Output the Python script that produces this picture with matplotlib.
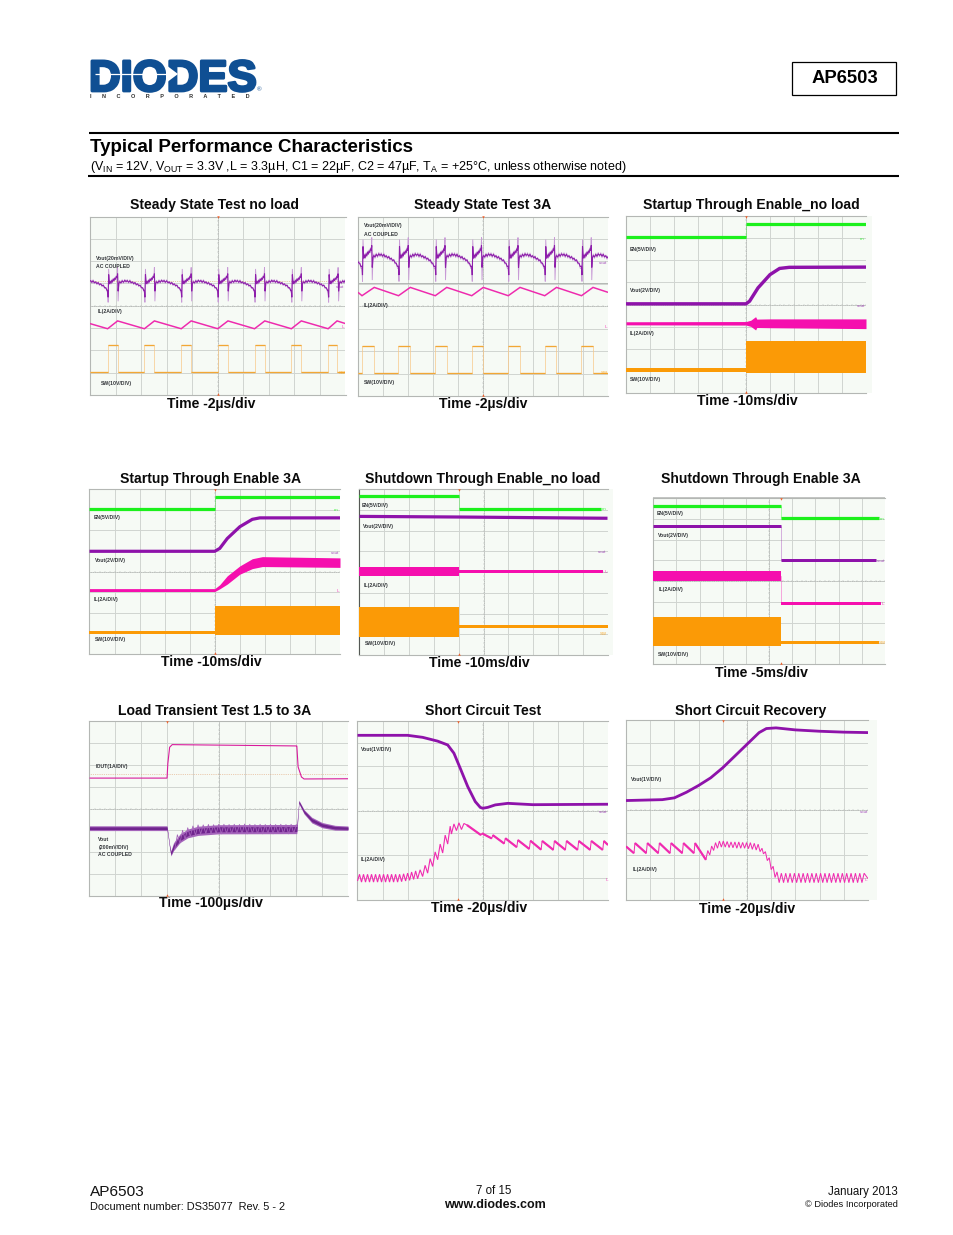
import numpy as np
import matplotlib
matplotlib.use("Agg")
import matplotlib.pyplot as plt
from matplotlib.patches import Rectangle, Polygon
import matplotlib.patheffects as pe

plt.rcParams['font.family'] = ['Liberation Sans', 'DejaVu Sans']
plt.rcParams['mathtext.fontset'] = 'custom'
plt.rcParams['mathtext.rm'] = 'Liberation Sans'
plt.rcParams['mathtext.default'] = 'rm'

GREEN, PURPLE, MAGENTA, ORANGE = '#1cf01c', '#8e12aa', '#f50fae', '#fb9a06'
BG, GRID, BORDER = '#f6faf5', '#d0d4d0', '#b4b7b4'

# ---- Panel text ----
TITLES = ["Steady State Test no load", "Steady State Test 3A", "Startup Through Enable_no load",
          "Startup Through Enable 3A", "Shutdown Through Enable_no load", "Shutdown Through Enable 3A",
          "Load Transient Test 1.5 to 3A", "Short Circuit Test", "Short Circuit Recovery"]
TIMES = ["Time -2µs/div", "Time -2µs/div", "Time -10ms/div", "Time -10ms/div", "Time -10ms/div",
         "Time -5ms/div", "Time -100µs/div", "Time -20µs/div", "Time -20µs/div"]

# ---- Values, in scope divisions (x 0-10, y 0-8) ----
# Ripple shape of one switching cycle, relative to the trace baseline
ripple_t = [0.00, 0.02, 0.04, 0.07, 0.10, 0.13, 0.16, 0.19, 0.22, 0.25, 0.28, 0.31, 0.34, 0.37, 0.39, 0.41, 0.44,
            0.47, 0.52, 0.57, 0.62, 0.67, 0.72, 0.77, 0.82, 0.87, 0.92, 0.97, 1.02, 1.07, 1.12, 1.17, 1.22, 1.27, 1.32, 1.37, 1.42]
ripple_dark = [-0.40, -0.72, 0.30, -0.12, 0.00, -0.10, 0.04, -0.04, 0.10, 0.02, 0.14, 0.08, 0.22, 0.16, 0.34, -0.45, -0.10,
               -0.02, -0.08, 0.02, -0.05, 0.04, -0.02, 0.03, -0.05, 0.02, -0.07, -0.03, -0.11, -0.06, -0.15, -0.12, -0.20, -0.18, -0.28, -0.30, -0.42]
ripple_light = [-0.50, -0.95, 0.55, -0.15, 0.04, -0.14, 0.08, -0.08, 0.14, 0.00, 0.18, 0.05, 0.26, 0.14, 0.62, -0.90, -0.16,
                0.04, -0.13, 0.07, -0.10, 0.09, -0.07, 0.08, -0.10, 0.07, -0.12, 0.00, -0.16, -0.03, -0.20, -0.09, -0.25, -0.15, -0.33, -0.28, -0.48]

p1_rise = [-0.75, 0.69, 2.13, 3.57, 5.00, 6.44, 7.88, 9.32]
p1_fall = [-0.36, 1.08, 2.52, 3.96, 5.40, 6.84, 8.27, 9.67]
p1_vout_base, p1_sw_low, p1_sw_high = 5.10, 1.03, 2.26
p1_il_x = [0, 0.69, 1.08, 2.13, 2.52, 3.57, 3.96, 5.00, 5.40, 6.44, 6.84, 7.88, 8.27, 9.32, 9.67, 10]
p1_il_y = [3.20, 2.97, 3.32, 2.97, 3.32, 2.97, 3.32, 2.97, 3.32, 2.97, 3.32, 2.97, 3.32, 2.97, 3.32, 3.20]

p2_rise = [-1.30, 0.16, 1.62, 3.09, 4.55, 6.01, 7.47, 8.94]
p2_fall = [-0.81, 0.65, 2.09, 3.55, 5.01, 6.48, 7.94, 9.40]
p2_vout_base, p2_sw_low, p2_sw_high = 6.29, 1.03, 2.22
p2_il_x = [0, 0.16, 0.65, 1.62, 2.09, 3.09, 3.55, 4.55, 5.01, 6.01, 6.48, 7.47, 7.94, 8.94, 9.40, 10]
p2_il_y = [4.62, 4.47, 4.84, 4.47, 4.84, 4.47, 4.84, 4.47, 4.84, 4.47, 4.84, 4.47, 4.84, 4.47, 4.84, 4.62]

p3_en_x, p3_en_y = [0, 5.0, 5.0, 10], [7.06, 7.06, 7.65, 7.65]
p3_vout_x = [0, 5.0, 5.15, 5.5, 6.0, 6.4, 6.8, 10]
p3_vout_y = [4.03, 4.03, 4.15, 4.75, 5.35, 5.63, 5.68, 5.69]
p3_il_x = [0, 5.0, 5.2, 5.4, 5.45, 6.0, 10]
p3_il_y = [3.15, 3.15, 3.15, 3.15, 3.15, 3.15, 3.13]
p3_il_h = [0.07, 0.08, 0.14, 0.30, 0.19, 0.20, 0.22]
p3_sw_x = [0, 5.0, 5.0, 10]
p3_sw_y = [1.03, 1.03, 1.62, 1.62]
p3_sw_h = [0.08, 0.08, 0.72, 0.72]

p4_en_x, p4_en_y = [0, 5.0, 5.0, 10], [7.01, 7.01, 7.59, 7.59]
p4_vout_x = [0, 5.0, 5.2, 5.5, 6.0, 6.5, 6.8, 10]
p4_vout_y = [4.98, 4.98, 5.12, 5.60, 6.17, 6.53, 6.60, 6.60]
p4_il_x = [0, 5.0, 5.2, 5.5, 6.0, 6.5, 6.9, 10]
p4_il_y = [3.10, 3.10, 3.26, 3.59, 4.07, 4.38, 4.48, 4.43]
p4_il_h = [0.07, 0.07, 0.10, 0.20, 0.20, 0.24, 0.24, 0.23]
p4_sw_x = [0, 5.0, 5.0, 10]
p4_sw_y = [1.05, 1.05, 1.62, 1.62]
p4_sw_h = [0.07, 0.07, 0.70, 0.70]

p5_en_x, p5_en_y = [0, 4.0, 4.0, 9.74], [7.66, 7.66, 7.05, 7.05]
p5_vout_x, p5_vout_y = [0, 4.0, 10], [6.68, 6.65, 6.59]
p5_il_x = [0, 4.0, 4.0, 9.83]
p5_il_y = [4.04, 4.04, 4.03, 4.03]
p5_il_h = [0.22, 0.22, 0.07, 0.07]
p5_sw_x = [0, 4.0, 4.0, 10]
p5_sw_y = [1.61, 1.61, 1.37, 1.37]
p5_sw_h = [0.72, 0.72, 0.07, 0.07]

p6_en_x, p6_en_y = [0, 5.5, 5.5, 9.75], [7.63, 7.63, 7.02, 7.02]
p6_vout_x = [0, 5.5, 5.5, 9.6]
p6_vout_y = [6.65, 6.65, 5.00, 5.00]
p6_il_x = [0, 5.5, 5.5, 9.83]
p6_il_y = [4.23, 4.23, 2.93, 2.93]
p6_il_h = [0.24, 0.24, 0.07, 0.07]
p6_sw_x = [0, 5.5, 5.5, 9.72]
p6_sw_y = [1.57, 1.57, 1.03, 1.03]
p6_sw_h = [0.71, 0.71, 0.07, 0.07]

p7_iout_x = [0, 3.0, 3.03, 3.1, 3.2, 8.0, 8.02, 8.07, 8.2, 8.3, 10]
p7_iout_y = [5.39, 5.39, 6.05, 6.80, 6.92, 6.86, 6.86, 5.90, 5.44, 5.35, 5.36]
p7_vout_x = [0, 3.0, 3.03, 3.1, 3.15, 3.25, 3.5, 3.8, 4.2, 5.0, 8.0, 8.02, 8.1, 8.3, 8.6, 9.0, 9.5, 10]
p7_vout_y = [3.10, 3.10, 2.86, 2.26, 1.95, 2.25, 2.64, 2.86, 2.98, 3.05, 3.06, 3.06, 4.30, 3.85, 3.47, 3.24, 3.12, 3.10]
p7_vout_h = [0.11, 0.11, 0.08, 0.08, 0.12, 0.18, 0.20, 0.20, 0.21, 0.21, 0.21, 0.21, 0.08, 0.10, 0.13, 0.12, 0.11, 0.10]
p7_noise_x = [3.3, 3.4, 3.5, 3.6, 3.7, 3.8, 3.9, 4.0, 4.1, 4.2, 4.3, 4.4, 4.5, 4.6, 4.7, 4.8, 4.9, 5.0, 5.1, 5.2, 5.3, 5.4,
              5.5, 5.6, 5.7, 5.8, 5.9, 6.0, 6.1, 6.2, 6.3, 6.4, 6.5, 6.6, 6.7, 6.8, 6.9, 7.0, 7.1, 7.2, 7.3, 7.4, 7.5, 7.6, 7.7, 7.8, 7.9, 8.0]
p7_noise_y = [2.15, 2.80, 2.42, 3.00, 2.60, 3.12, 2.72, 3.20, 2.78, 3.25, 2.84, 3.25, 2.86, 3.27, 2.85, 3.26, 2.86, 3.28, 2.84, 3.28, 2.86, 3.27,
              2.85, 3.28, 2.86, 3.27, 2.85, 3.29, 2.84, 3.28, 2.86, 3.27, 2.85, 3.28, 2.84, 3.27, 2.86, 3.28, 2.84, 3.27, 2.85, 3.28, 2.85, 3.27, 2.84, 3.28, 2.86, 3.27]

p8_vout_x = [0, 2.0, 2.6, 3.2, 3.6, 3.85, 4.1, 4.4, 4.7, 4.9, 5.0, 5.2, 5.5, 6.0, 6.5, 7.0, 10]
p8_vout_y = [7.36, 7.36, 7.27, 7.10, 6.93, 6.56, 5.89, 5.07, 4.40, 4.14, 4.10, 4.14, 4.25, 4.32, 4.29, 4.26, 4.28]
p8_il_x = [0, .08, .16, .24, .32, .40, .48, .56, .64, .72, .80, .88, .96, 1.04, 1.12, 1.20, 1.28, 1.36, 1.44, 1.52,
           1.60, 1.68, 1.76, 1.84, 1.92, 2.00, 2.08, 2.16, 2.24, 2.32, 2.40, 2.50, 2.60, 2.70, 2.80, 2.90, 3.00, 3.10,
           3.20, 3.30, 3.40, 3.50, 3.60, 3.70, 3.75, 3.85, 3.95, 4.05, 4.15, 4.25, 4.37]
p8_il_y = [.85, 1.15, .80, 1.15, .80, 1.15, .80, 1.15, .80, 1.15, .80, 1.15, .80, 1.15, .80, 1.15, .80, 1.15, .80, 1.15,
           .80, 1.15, .82, 1.17, .85, 1.20, .88, 1.25, .92, 1.30, .95, 1.35, 1.05, 1.55, 1.20, 1.85, 1.50, 2.15,
           1.80, 2.50, 2.10, 2.90, 2.50, 3.30, 2.95, 3.40, 3.10, 3.45, 3.15, 3.42, 3.35]
p8_peak_x = [4.37, 4.97, 5.40, 5.90, 6.40, 6.90, 7.37, 7.86, 8.34, 8.83, 9.33, 9.83]
p8_peak_y = [3.35, 2.98, 2.90, 2.76, 2.68, 2.65, 2.64, 2.64, 2.64, 2.64, 2.64, 2.64]
p8_valley_x = [4.93, 5.36, 5.86, 6.36, 6.86, 7.33, 7.82, 8.30, 8.79, 9.29, 9.79, 10.0]
p8_valley_y = [2.90, 2.75, 2.52, 2.36, 2.28, 2.25, 2.24, 2.24, 2.24, 2.24, 2.24, 2.46]

p9_vout_x = [0, 1.5, 2.0, 2.5, 3.0, 3.5, 4.0, 4.5, 5.0, 5.5, 5.8, 6.2, 7.0, 8.0, 9.0, 10]
p9_vout_y = [4.42, 4.46, 4.54, 4.79, 5.09, 5.43, 5.88, 6.40, 6.92, 7.44, 7.62, 7.65, 7.56, 7.50, 7.46, 7.44]
p9_peak_x = [0.00, 0.37, 0.88, 1.38, 1.86, 2.37, 2.85]
p9_peak_y = [2.38, 2.53, 2.53, 2.53, 2.53, 2.53, 2.53]
p9_valley_x = [0.33, 0.84, 1.34, 1.82, 2.33, 2.81, 3.30]
p9_valley_y = [2.08, 2.08, 2.08, 2.08, 2.08, 2.08, 1.79]
p9_il_x = [3.30, 3.38, 3.46, 3.54, 3.62, 3.70, 3.78, 3.86, 3.94, 4.02, 4.10, 4.18, 4.26, 4.34, 4.42, 4.50, 4.58, 4.66, 4.74,
           4.82, 4.90, 4.98, 5.06, 5.14, 5.22, 5.30, 5.38, 5.46, 5.54, 5.62, 5.68, 5.76, 5.84, 5.92, 6.00, 6.08, 6.16, 6.24,
           6.33, 6.42, 6.51, 6.60, 6.69, 6.78, 6.87, 6.96, 7.05, 7.14, 7.23, 7.32, 7.41, 7.50, 7.59, 7.68, 7.77, 7.86, 7.95,
           8.04, 8.13, 8.22, 8.31, 8.40, 8.49, 8.58, 8.67, 8.76, 8.85, 8.94, 9.03, 9.12, 9.21, 9.30, 9.39, 9.48, 9.57, 9.66, 9.75, 9.84, 10.0]
p9_il_y = [1.79, 2.20, 2.00, 2.40, 2.20, 2.55, 2.30, 2.62, 2.35, 2.62, 2.35, 2.60, 2.33, 2.58, 2.32, 2.58, 2.30, 2.58, 2.30,
           2.56, 2.30, 2.55, 2.28, 2.55, 2.25, 2.52, 2.22, 2.48, 2.15, 2.30, 2.05, 2.15, 1.75, 1.88, 1.35, 1.50, 1.00, 1.25,
           .77, 1.19, .77, 1.19, .77, 1.19, .77, 1.19, .77, 1.19, .77, 1.19, .77, 1.19, .77, 1.19, .77, 1.19, .77,
           1.19, .77, 1.19, .77, 1.19, .77, 1.19, .77, 1.19, .77, 1.19, .77, 1.19, .77, 1.19, .77, 1.19, .77, 1.19, .77, 1.19, .95]


# ---- Page and helpers ----
fig = plt.figure(figsize=(9.54, 12.35), dpi=100, facecolor='white')
page = fig.add_axes([0, 0, 1, 1], zorder=0)
page.set_xlim(0, 954)
page.set_ylim(1235, 0)
page.axis('off')
top = fig.add_axes([0, 0, 1, 1], zorder=2)
top.set_xlim(0, 954)
top.set_ylim(1235, 0)
top.axis('off')
top.patch.set_alpha(0)
W, H = 954.0, 1235.0


def panel(left, right, top_px, bottom, trig, bg_right=None, bg_left=None):
    page.add_patch(Rectangle((bg_left or left, top_px), (bg_right or right) - (bg_left or left), bottom - top_px,
                             fc=BG, ec='none', zorder=0))
    ax = fig.add_axes([left / W, 1 - bottom / H, (right - left) / W, (bottom - top_px) / H], zorder=1)
    ax.patch.set_alpha(0)
    ax.set_xlim(0, 10)
    ax.set_ylim(0, 8)
    ax.set_xticks(range(1, 10))
    ax.set_yticks(range(1, 8))
    ax.tick_params(length=0, labelbottom=False, labelleft=False)
    ax.grid(True, color=GRID, lw=0.7)
    ax.set_axisbelow(True)
    for s in ax.spines.values():
        s.set_color(BORDER)
        s.set_linewidth(0.8)
    ax.spines['right'].set_visible(False)
    ax.axhline(4, color='#a8aba8', lw=0.5, ls=':', zorder=1)
    ax.axvline(5, color='#a8aba8', lw=0.5, ls=':', zorder=1)
    ax.vlines(np.arange(0, 10.01, 0.2), 3.96, 4.04, color='#b4b7b4', lw=0.35, zorder=1)
    ax.hlines(np.arange(0, 8.01, 0.2), 4.96, 5.04, color='#b4b7b4', lw=0.35, zorder=1)
    ax.plot([trig], [7.97], marker='v', ms=1.8, color='#f0602a', mew=0, clip_on=False, zorder=4)
    ax.plot([trig], [0.03], marker='^', ms=1.8, color='#f0602a', mew=0, clip_on=False, zorder=4)
    return ax


def line(ax, x, y, color, px=3.0, alpha=1.0):
    """Thick trace; a vertical step (same x twice) is only a faint hairline, as on the scope."""
    start = 0
    for i in range(len(x) - 1):
        if x[i] == x[i + 1]:
            ax.plot(x[start:i + 1], y[start:i + 1], color=color, lw=px * 0.72, solid_capstyle='butt',
                    solid_joinstyle='miter', alpha=alpha, zorder=3)
            ax.plot(x[i:i + 2], y[i:i + 2], color=color, lw=0.5, alpha=0.45, solid_capstyle='butt', zorder=3)
            start = i + 1
    ax.plot(x[start:], y[start:], color=color, lw=px * 0.72, solid_capstyle='butt', solid_joinstyle='miter',
            alpha=alpha, zorder=3)


def band(ax, x, y, half, color):
    x, y, half = np.array(x), np.array(y), np.array(half)
    ax.fill_between(x, y - half, y + half, color=color, lw=0, zorder=3)


def tile(rises, t, v, base):
    xs, ys = [], []
    for r in rises:
        xs += [r + q for q in t]
        ys += [base + q for q in v]
    return xs, ys


def square(ax, rises, falls, low, high, color):
    xs, ys = [0], [low]
    for r, f in zip(rises, falls):
        if r >= 0:
            xs += [r, r, f, f]
            ys += [low, high, high, low]
    xs.append(10)
    ys.append(low)
    ax.plot(xs, ys, color='#f8c888', lw=0.5, zorder=3)
    for i in range(len(xs) - 1):
        if ys[i] == ys[i + 1]:
            ax.plot(xs[i:i + 2], ys[i:i + 2], color=color, lw=0.95, solid_capstyle='butt', zorder=3)


def teeth(ax, px_, py_, vx, vy, color, thick=2.2):
    xs, ys = [], []
    for a, b, c, d in zip(px_, py_, vx, vy):
        xs += [a, c]
        ys += [b, d]
    ax.plot(xs, ys, color=color, lw=0.72, zorder=3)
    for a, b, c, d in zip(px_, py_, vx, vy):
        ax.plot([a, c], [b, d], color=color, lw=thick * 0.72, solid_capstyle='butt', zorder=3)


def labels(cx, cy, items):
    for zx, zy, s in items:
        top.text(cx + zx / 3, cy + zy / 3, s, fontsize=3.7, fontweight='bold', color='#33363a',
                 ha='left', va='center')


def marks(cx, cy, items):
    for zx, zy, s, c in items:
        top.text(cx + zx / 3, cy + zy / 3, s, fontsize=3.2, color=c, ha='left', va='center', alpha=0.8)


LPUR, DPUR = '#c89ad6', '#8d1eaa'
SWT = '#f2a735'

# Panel 1
a = panel(90, 345.5, 216.5, 395, 5)
a.axhline(p1_vout_base, color='#d8a060', lw=0.5, ls=':', zorder=2)
x, y = tile(p1_rise, ripple_t, ripple_light, p1_vout_base)
line(a, x, y, LPUR, 0.9)
x, y = tile(p1_rise, ripple_t, ripple_dark, p1_vout_base)
line(a, x, y, DPUR, 1.1)
line(a, p1_il_x, p1_il_y, '#ee2aae', 1.5)
square(a, p1_rise, p1_fall, p1_sw_low, p1_sw_high, SWT)
labels(85, 195, [(32, 190, "Vout(20mV/DIV)"), (32, 213, "AC COUPLED"), (37, 350, "IL(2A/DIV)"), (47, 565, "SW(10V/DIV)")])
marks(85, 195, [(752, 275, "vout", DPUR), (770, 395, "IL", MAGENTA), (760, 535, "SW", ORANGE)])

# Panel 2
a = panel(358, 608, 216.5, 396, 5)
a.axhline(5.02, color='#9a9d9a', lw=0.5, zorder=2)
x, y = tile(p2_rise, ripple_t, [q * 1.25 for q in ripple_light], p2_vout_base)
line(a, x, y, LPUR, 0.9)
x, y = tile(p2_rise, ripple_t, [q * 1.25 for q in ripple_dark], p2_vout_base)
line(a, x, y, DPUR, 1.1)
line(a, p2_il_x, p2_il_y, '#ee2aae', 1.5)
square(a, p2_rise, p2_fall, p2_sw_low, p2_sw_high, SWT)
labels(355, 195, [(27, 93, "Vout(20mV/DIV)"), (27, 118, "AC COUPLED"), (27, 333, "IL(2A/DIV)"), (27, 563, "SW(10V/DIV)")])
marks(355, 195, [(733, 203, "vout", DPUR), (750, 395, "IL", MAGENTA), (738, 535, "SW", ORANGE)])

# Panel 3
a = panel(626, 866, 216, 393, 5, bg_right=872)
line(a, p3_en_x, p3_en_y, GREEN, 3.2)
line(a, p3_vout_x, p3_vout_y, PURPLE, 3.4)
band(a, p3_il_x, p3_il_y, p3_il_h, MAGENTA)
band(a, p3_sw_x, p3_sw_y, p3_sw_h, ORANGE)
labels(620, 195, [(28, 162, "EN(5V/DIV)"), (30, 287, "Vout(2V/DIV)"), (30, 417, "IL(2A/DIV)"), (30, 555, "SW(10V/DIV)")])
marks(620, 195, [(720, 132, "en", GREEN), (710, 333, "vout", DPUR), (728, 390, "IL", MAGENTA), (718, 527, "SW", ORANGE)])

# Panel 4
a = panel(89.5, 340, 489, 654, 5)
line(a, p4_en_x, p4_en_y, GREEN, 3.2)
line(a, p4_vout_x, p4_vout_y, PURPLE, 3.2)
band(a, p4_il_x, p4_il_y, p4_il_h, MAGENTA)
band(a, p4_sw_x, p4_sw_y, p4_sw_h, ORANGE)
labels(85, 470, [(27, 142, "EN(5V/DIV)"), (30, 272, "Vout(2V/DIV)"), (27, 387, "IL(2A/DIV)"), (30, 510, "SW(10V/DIV)")])
marks(85, 470, [(748, 120, "en", GREEN), (738, 249, "vout", DPUR), (756, 363, "IL", MAGENTA), (742, 487, "SW", ORANGE)])

# Panel 5
a = panel(359.5, 607.5, 489, 655, 4.0, bg_right=613, bg_left=358)
line(a, p5_en_x, p5_en_y, GREEN, 3.2)
line(a, p5_vout_x, p5_vout_y, PURPLE, 3.2)
band(a, p5_il_x, p5_il_y, p5_il_h, MAGENTA)
band(a, p5_sw_x, p5_sw_y, p5_sw_h, ORANGE)
a.spines['left'].set_color('#555855')
labels(355, 470, [(20, 107, "EN(5V/DIV)"), (25, 170, "Vout(2V/DIV)"), (25, 345, "IL(2A/DIV)"), (30, 522, "SW(10V/DIV)")])
marks(355, 470, [(740, 118, "en", GREEN), (730, 247, "vout", DPUR), (748, 305, "IL", MAGENTA), (735, 493, "SW", ORANGE)])

# Panel 6
a = panel(653.3, 885, 498, 664, 5.5)
page.add_patch(Rectangle((653.3, 497), 231.7, 2, fc='#c4c6c4', ec='none', zorder=2))
line(a, p6_en_x, p6_en_y, GREEN, 3.2)
line(a, p6_vout_x, p6_vout_y, PURPLE, 3.0)
a.plot([5.5, 5.5], [p6_il_y[1], p6_il_y[2]], color=MAGENTA, lw=0.5, alpha=0.5, zorder=3)
band(a, p6_il_x, p6_il_y, p6_il_h, MAGENTA)
band(a, p6_sw_x, p6_sw_y, p6_sw_h, ORANGE)
labels(640, 470, [(50, 131, "EN(5V/DIV)"), (53, 197, "Vout(2V/DIV)"), (57, 360, "IL(2A/DIV)"), (55, 553, "SW(10V/DIV)")])
marks(640, 470, [(720, 148, "en", GREEN), (710, 273, "vout", DPUR), (726, 401, "IL", MAGENTA), (717, 520, "SW", ORANGE)])

# Panel 7
a = panel(89.5, 348, 721, 896, 3.0)
a.axhline(5.56, color='#e0a070', lw=0.5, ls=':', zorder=2)
line(a, p7_iout_x, p7_iout_y, '#d81a9c', 1.1)
band(a, p7_vout_x, p7_vout_y, p7_vout_h, '#a565bb')
band(a, p7_vout_x, p7_vout_y, [q * 0.55 for q in p7_vout_h], '#70248e')
a.plot(p7_noise_x, p7_noise_y, color='#a565bb', lw=0.6, zorder=3)
labels(85, 700, [(33, 200, "IOUT(1A/DIV)"), (40, 418, "Vout"), (40, 441, "(200mV/DIV)"), (40, 465, "AC COUPLED")])

# Panel 8
a = panel(357.5, 608, 721, 900, 4.0)
line(a, p8_vout_x, p8_vout_y, PURPLE, 2.8)
line(a, p8_il_x, p8_il_y, '#f02ab0', 1.1)
teeth(a, p8_peak_x, p8_peak_y, p8_valley_x, p8_valley_y, '#f02ab0')
labels(355, 700, [(18, 149, "Vout(1V/DIV)"), (18, 478, "IL(2A/DIV)")])
marks(355, 700, [(733, 335, "vout", DPUR), (752, 540, "IL", MAGENTA)])

# Panel 9
a = panel(626, 868, 720, 900, 4.0, bg_right=877)
line(a, p9_vout_x, p9_vout_y, PURPLE, 2.8)
teeth(a, p9_peak_x, p9_peak_y, p9_valley_x, p9_valley_y, '#f02ab0')
line(a, p9_il_x, p9_il_y, '#f02ab0', 1.0)
labels(620, 700, [(32, 237, "Vout(1V/DIV)"), (38, 507, "IL(2A/DIV)")])
marks(620, 700, [(720, 335, "vout", DPUR), (735, 540, "IL", MAGENTA)])

# Panel titles and time labels
title_cx = [215, 483, 751, 211, 483, 761, 215, 483, 751]
title_y = [205, 205, 205, 479, 479, 479, 711, 711, 711]
time_cx = [211, 483, 747, 211, 479, 761, 211, 479, 747]
time_y = [404, 404, 401, 662, 663, 673, 903, 908, 909]
for s, cx, cy in zip(TITLES, title_cx, title_y):
    page.text(cx, cy, s, fontsize=10.1, fontweight='bold', ha='center', va='center', color='#0a0a0a')
for s, cx, cy in zip(TIMES, time_cx, time_y):
    page.text(cx, cy, s, fontsize=10.1, fontweight='bold', ha='center', va='center', color='#0a0a0a')

# Header
BLUE = '#0f4f93'
page.text(89, 91, "DIODES", fontsize=31.5, fontweight='bold', color=BLUE, ha='left', va='baseline',
          path_effects=[pe.withStroke(linewidth=2.0, foreground=BLUE)])
page.plot([95, 166], [74, 74], color='white', lw=0.9, solid_capstyle='butt', zorder=3)
page.add_patch(Polygon([[166, 65], [166, 83], [178, 74]], closed=True, fc='white', ec='none', zorder=3))
page.text(257, 90, "®", fontsize=4.5, color=BLUE, ha='left', va='center')
page.text(90, 96.5, "I       N       C       O       R       P       O       R       A       T       E       D",
          fontsize=4.0, fontweight='bold', color='#303030', ha='left', va='center')
page.add_patch(Rectangle((792.5, 61.5), 104, 33, fc='white', ec='black', lw=0.9))
page.text(844.5, 78.5, "AP6503", fontsize=13.3, fontweight='bold', ha='center', va='center', color='black')
page.plot([89, 899], [133, 133], color='black', lw=1.5, solid_capstyle='butt')
page.plot([88, 899], [176, 176], color='black', lw=1.5, solid_capstyle='butt')
page.text(90, 152, "Typical Performance Characteristics", fontsize=13.5, fontweight='bold', ha='left',
          va='baseline', color='black')
page.text(90, 170, r"(V$_{IN}$ = 12V, V$_{OUT}$ = 3.3V ,L = 3.3µH, C1 = 22µF, C2 = 47µF, T$_{A}$ = +25°C, unless otherwise noted)",
          fontsize=9.0, ha='left', va='baseline', color='black')

# Footer
page.text(90, 1196, "AP6503", fontsize=11.1, ha='left', va='baseline', color='#111111')
page.text(90, 1210, "Document number: DS35077  Rev. 5 - 2", fontsize=7.9, ha='left', va='baseline', color='#111111')
page.text(494, 1194, "7 of 15", fontsize=8.3, ha='center', va='baseline', color='#111111')
page.text(494.5, 1208, "www.diodes.com", fontsize=9.0, fontweight='bold', ha='center', va='baseline', color='#111111')
page.text(898, 1195, "January 2013", fontsize=8.3, ha='right', va='baseline', color='#111111')
page.text(898, 1207, "© Diodes Incorporated", fontsize=6.7, ha='right', va='baseline', color='#111111')

fig.savefig("out.png", dpi=100, facecolor='white')
